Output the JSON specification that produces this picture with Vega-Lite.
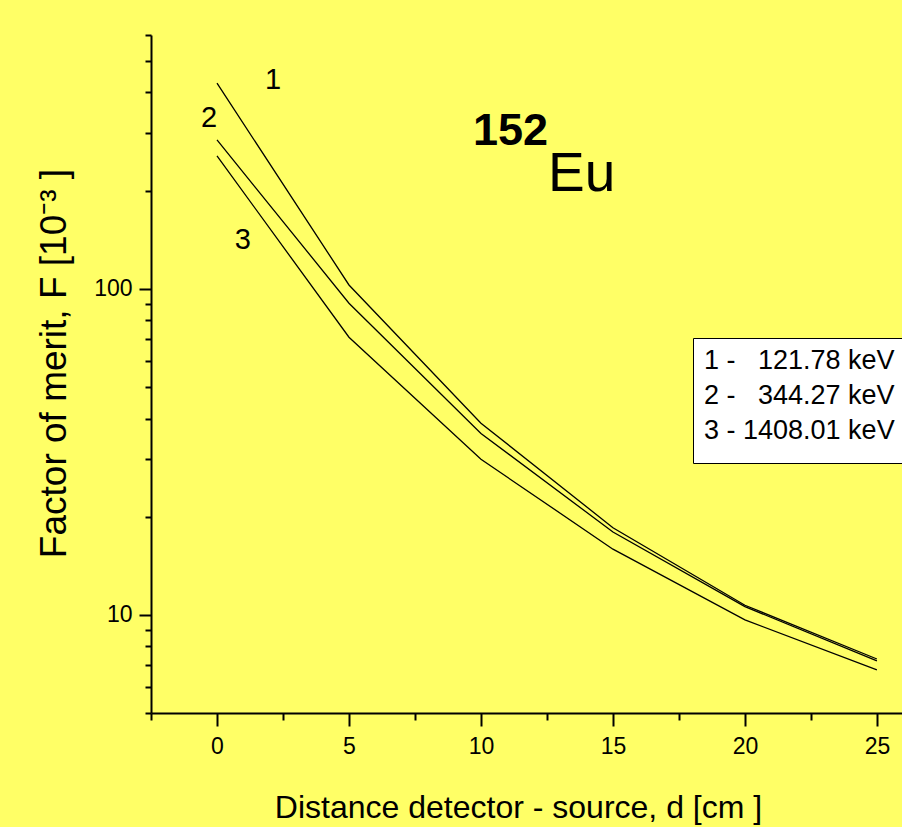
{
  "$schema": "https://vega.github.io/schema/vega-lite/v6.json",
  "width": 751,
  "height": 678,
  "autosize": {"type": "none"},
  "padding": {"left": 151, "top": 35, "right": 0, "bottom": 114},
  "background": "#ffff66",
  "config": {
    "view": {"stroke": null},
    "font": "Liberation Sans",
    "axis": {"grid": false, "domainColor": "black", "domainWidth": 2, "tickColor": "black", "tickWidth": 2, "labelColor": "black", "labelFont": "Liberation Sans", "labelFontSize": 23, "titleColor": "black", "titleFontWeight": "normal", "labelOverlap": false, "labelFlush": false}
  },
  "encoding": {
    "x": {
      "field": "d", "type": "quantitative",
      "scale": {"domain": [-2.5, 25.95], "nice": false, "zero": false},
      "axis": {
        "values": [-2.5, 0, 2.5, 5, 7.5, 10, 12.5, 15, 17.5, 20, 22.5, 25],
        "labelExpr": "datum.value % 5 == 0 ? datum.value : ''",
        "tickSize": {"condition": {"test": "datum.value % 5 == 0", "value": 13}, "value": 7},
        "labelFontSize": 23,
        "labelPadding": 9,
        "title": "Distance detector - source, d [cm ]",
        "titleFont": "Liberation Sans",
        "titleFontSize": 32,
        "titleX": 367,
        "titleY": 104,
        "titleAlign": "center",
        "titleBaseline": "alphabetic"
      }
    },
    "y": {
      "field": "F", "type": "quantitative",
      "scale": {"type": "log", "domain": [5, 600], "nice": false},
      "axis": {
        "values": [5, 6, 7, 8, 9, 10, 20, 30, 40, 50, 60, 70, 80, 90, 100, 200, 300, 400, 500, 600],
        "labelExpr": "datum.value == 10 || datum.value == 100 ? datum.value : ''",
        "tickSize": {"condition": {"test": "datum.value == 10 || datum.value == 100", "value": 12}, "value": 6},
        "labelFontSize": 23,
        "labelPadding": 7,
        "title": "Factor of merit, F [10⁻³ ]",
        "titleFontSize": 37,
        "titleX": -86,
        "titleY": 328,
        "titleAngle": -90,
        "titleAlign": "center",
        "titleBaseline": "alphabetic"
      }
    }
  },
  "layer": [
    {
      "data": {"values": [
        {"d": 0, "F": 426.9, "s": "1 -\u00a0\u00a0\u00a0121.78 keV"},
        {"d": 5, "F": 102.7, "s": "1 -\u00a0\u00a0\u00a0121.78 keV"},
        {"d": 10, "F": 38.7, "s": "1 -\u00a0\u00a0\u00a0121.78 keV"},
        {"d": 15, "F": 18.5, "s": "1 -\u00a0\u00a0\u00a0121.78 keV"},
        {"d": 20, "F": 10.7, "s": "1 -\u00a0\u00a0\u00a0121.78 keV"},
        {"d": 25, "F": 7.32, "s": "1 -\u00a0\u00a0\u00a0121.78 keV"},
        {"d": 0, "F": 286, "s": "2 -\u00a0\u00a0\u00a0344.27 keV"},
        {"d": 5, "F": 90.3, "s": "2 -\u00a0\u00a0\u00a0344.27 keV"},
        {"d": 10, "F": 36.0, "s": "2 -\u00a0\u00a0\u00a0344.27 keV"},
        {"d": 15, "F": 17.95, "s": "2 -\u00a0\u00a0\u00a0344.27 keV"},
        {"d": 20, "F": 10.6, "s": "2 -\u00a0\u00a0\u00a0344.27 keV"},
        {"d": 25, "F": 7.22, "s": "2 -\u00a0\u00a0\u00a0344.27 keV"},
        {"d": 0, "F": 255.5, "s": "3 - 1408.01 keV"},
        {"d": 5, "F": 71.0, "s": "3 - 1408.01 keV"},
        {"d": 10, "F": 30.0, "s": "3 - 1408.01 keV"},
        {"d": 15, "F": 15.9, "s": "3 - 1408.01 keV"},
        {"d": 20, "F": 9.65, "s": "3 - 1408.01 keV"},
        {"d": 25, "F": 6.78, "s": "3 - 1408.01 keV"}
      ]},
      "mark": {"type": "line", "strokeWidth": 1.3},
      "encoding": {
        "color": {
          "field": "s", "type": "nominal",
          "scale": {"range": ["black", "black", "black"]},
          "legend": {
            "title": " ",
            "titleOrient": "bottom",
            "titleFontSize": 10,
            "titlePadding": 0,
            "orient": "none",
            "legendX": 542,
            "legendY": 303,
            "fillColor": "white",
            "strokeColor": "black",
            "padding": 9,
            "symbolSize": 0,
            "symbolOpacity": 0,
            "symbolStrokeWidth": 0,
            "labelOffset": -25,
            "labelFontSize": 27,
            "labelFont": "Liberation Sans",
            "labelColor": "black",
            "rowPadding": 7,
            "labelLimit": 400
          }
        }
      }
    },
    {
      "data": {"values": [
        {"d": 2.12, "F": 436.7, "t": "1"},
        {"d": -0.30, "F": 334, "t": "2"},
        {"d": 0.98, "F": 141, "t": "3"}
      ]},
      "mark": {"type": "text", "fontSize": 29, "align": "center", "baseline": "middle", "color": "black"},
      "encoding": {"text": {"field": "t"}}
    },
    {
      "data": {"values": [{"d": 9.70, "F": 276.6, "t": "152"}]},
      "mark": {"type": "text", "fontSize": 45, "fontWeight": "bold", "align": "left", "baseline": "alphabetic", "color": "black"},
      "encoding": {"text": {"field": "t"}}
    },
    {
      "data": {"values": [{"d": 12.54, "F": 199.6, "t": "Eu"}]},
      "mark": {"type": "text", "fontSize": 55, "align": "left", "baseline": "alphabetic", "color": "black"},
      "encoding": {"text": {"field": "t"}}
    }
  ]
}
